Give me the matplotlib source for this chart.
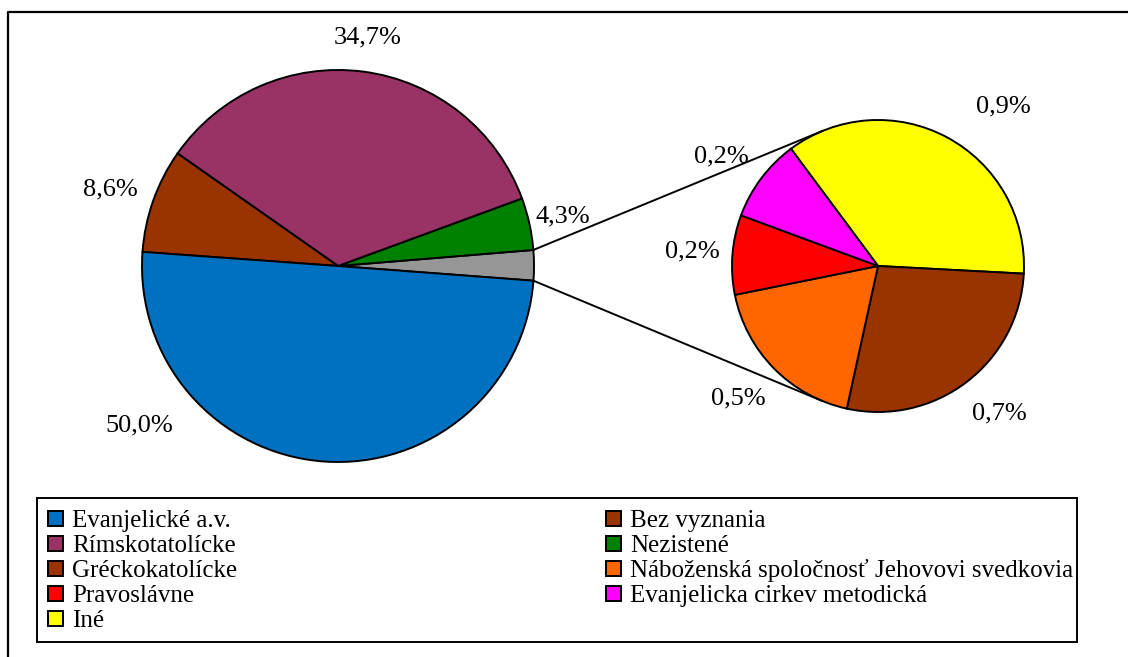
import matplotlib.pyplot as plt
from matplotlib.patches import Rectangle
import numpy as np

plt.rcParams['font.family'] = ['Liberation Serif', 'DejaVu Serif']

# hlavny graf (poradie proti smeru hodin od sedej vysece)
main_labels = ['Nezistené', 'Rímskotatolícke', 'Gréckokatolícke', 'Evanjelické a.v.']
main_values = [4.3, 34.7, 8.6, 50.0]
main_colors = ['#008000', '#993366', '#993300', '#0070C0']

# vedlajsi graf (poradie v smere hodin od zltej vysece)
sub_labels = ['Iné', 'Bez vyznania', 'Náboženská spoločnosť Jehovovi svedkovia',
              'Pravoslávne', 'Evanjelicka cirkev metodická']
sub_values = [0.90, 0.69, 0.46, 0.22, 0.23]
sub_colors = ['#FFFF00', '#993300', '#FF6600', '#FF0000', '#FF00FF']
other_color = '#969696'

# poradie v legende (po riadkoch, dva stlpce)
legend_labels = ['Evanjelické a.v.', 'Bez vyznania', 'Rímskotatolícke', 'Nezistené',
                 'Gréckokatolícke', 'Náboženská spoločnosť Jehovovi svedkovia',
                 'Pravoslávne', 'Evanjelicka cirkev metodická', 'Iné']

W, H = 1128, 657
main_c, main_r = (338, 391), 196
sub_c, sub_r = (878, 391), 146
edge = dict(edgecolor='black', linewidth=1.4)


def pct(v):
    return f'{v:.1f}%'.replace('.', ',')


fig = plt.figure(figsize=(W / 100, H / 100), dpi=100)
ax = fig.add_axes([0, 0, 1, 1])

vals1 = [sum(sub_values)] + main_values
cols1 = [other_color] + main_colors
w1, _ = ax.pie(vals1, colors=cols1, center=main_c, radius=main_r, startangle=-4.3,
               counterclock=True, wedgeprops=edge)
w2, _ = ax.pie(sub_values, colors=sub_colors, center=sub_c, radius=sub_r, startangle=126.6,
               counterclock=False, wedgeprops=edge)

# popisky hodnot
main_lab = {'Nezistené': (0, 230), 'Rímskotatolícke': (0, 230),
            'Gréckokatolícke': (1, 240), 'Evanjelické a.v.': (-47, 255)}
for w, name, v in zip(w1[1:], main_labels, main_values):
    da, dist = main_lab[name]
    a = np.deg2rad((w.theta1 + w.theta2) / 2 + da)
    ax.text(main_c[0] + dist * np.cos(a), main_c[1] + dist * np.sin(a), pct(v),
            ha='center', va='center', fontsize=19)

sub_lab = [(-10, 203), (2, 191), (-1, 192), (0, 186), (2, 191)]
for w, v, (da, dist) in zip(w2, sub_values, sub_lab):
    a = np.deg2rad((w.theta1 + w.theta2) / 2 + da)
    ax.text(sub_c[0] + dist * np.cos(a), sub_c[1] + dist * np.sin(a), pct(v),
            ha='center', va='center', fontsize=19)

# spojovacie ciary (dotycnice k vedlajsiemu grafu)
g = w1[0]
d = np.hypot(sub_c[0] - main_c[0], 0)
for th, sgn in [(g.theta2, 1), (g.theta1, -1)]:
    p = np.array(main_c) + main_r * np.array([np.cos(np.deg2rad(th)), np.sin(np.deg2rad(th))])
    cp = np.array(sub_c) - p
    dist = np.hypot(*cp)
    phi = np.arctan2(cp[1], cp[0]) + sgn * np.arcsin(sub_r / dist)
    L = np.sqrt(dist ** 2 - sub_r ** 2)
    ax.plot([p[0], p[0] + L * np.cos(phi)], [p[1], p[1] + L * np.sin(phi)],
            color='black', lw=1.4)

# legenda
colors = dict(zip(main_labels + sub_labels, main_colors + sub_colors))
ax.add_patch(Rectangle((37, H - 642), 1040, 144, facecolor='white',
                       edgecolor='black', lw=1.4))
for i, name in enumerate(legend_labels):
    x = [48, 606][i % 2]
    base = H - (527 + 25 * (i // 2))
    ax.add_patch(Rectangle((x, base + 1), 15, 15, facecolor=colors[name],
                           edgecolor='black', lw=1.4))
    ax.text(x + 24, base, name, ha='left', va='baseline', fontsize=18)

# ramik
ax.plot([8, 8, W], [0, H - 12, H - 12], color='black', lw=1.6, clip_on=False)

ax.set_xlim(0, W)
ax.set_ylim(0, H)
ax.set_aspect('equal')
ax.axis('off')

fig.savefig('out.png', dpi=100)
